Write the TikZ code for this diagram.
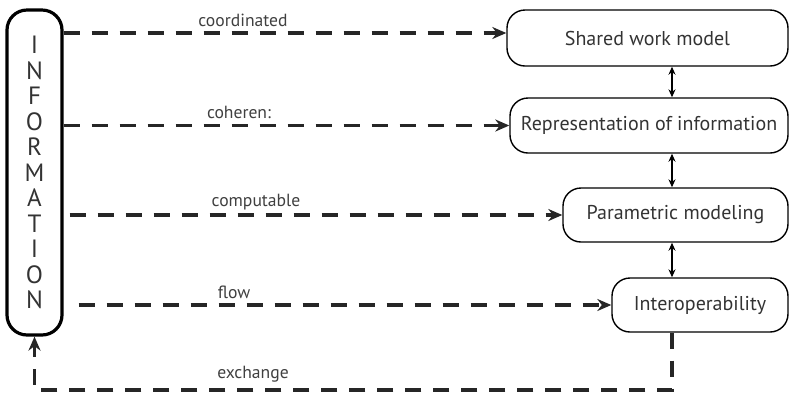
\documentclass[tikz,border=0pt]{standalone}
\usepackage{fontspec}
\setmainfont{PT Sans}
\usetikzlibrary{arrows.meta,calc}

\tikzset{
  infobox/.style={draw, line width=1.6pt, rounded corners=10pt, minimum width=27.5pt,
    minimum height=162.5pt, inner sep=0pt, align=center,
    font=\fontsize{12.5}{12.75}\selectfont, text=black!80},
  stagebox/.style={draw, line width=0.7pt, rounded corners=9pt, inner sep=0pt,
    font=\fontsize{10}{12}\selectfont, text=black!80},
  flowline/.style={line width=1.6pt, dash pattern=on 8pt off 6pt, black!85,
    -{Stealth[length=7pt,width=6pt]}},
  linkarrow/.style={line width=0.6pt, {Stealth[length=4pt,width=3.5pt]}-{Stealth[length=4pt,width=3.5pt]}},
  tag/.style={font=\fontsize{8.8}{10}\selectfont, text=black!75, inner sep=0pt}
}

\begin{document}
\begin{tikzpicture}[x=0.5pt,y=-0.5pt]
\useasboundingbox (0,0) rectangle (789,393);

% source column
\node[infobox] (info) at (34.5,172.5) {I\\N\\F\\O\\R\\M\\A\\T\\I\\O\\N};

% stages on the right
\node[stagebox, minimum width=140.5pt, minimum height=28pt] (b1) at (647.5,38) {Shared work model};
\node[stagebox, minimum width=139pt, minimum height=27.5pt] (b2) at (649,125.5) {Representation of information};
\node[stagebox, minimum width=112.5pt, minimum height=27pt] (b3) at (675.5,215) {Parametric modeling};
\node[stagebox, minimum width=88pt, minimum height=27pt] (b4) at (700,305) {Interoperability};

% links between stages
\coordinate (vx) at (672,0);
\draw[linkarrow] (b1.south -| vx) -- (b2.north -| vx);
\draw[linkarrow] (b2.south -| vx) -- (b3.north -| vx);
\draw[linkarrow] (b3.south -| vx) -- (b4.north -| vx);

% flows from the source
\draw[flowline] ($(info.east |- b1.west)+(0,-5)$) -- ($(b1.west)+(0,-5)$);
\draw[flowline] (info.east |- b2.west) -- (b2.west);
\draw[flowline] ([xshift=3pt]info.east |- b3.west) -- (b3.west);
\draw[flowline] ([xshift=7.5pt]info.east |- b4.west) -- (b4.west);

% feedback loop
\coordinate (lowright) at (672,390);
\draw[flowline] (b4.south -| vx) -- (lowright) -- (lowright -| info.south) -- (info.south);

% labels
\node[tag] (tcoord) at (243,20) {coordinated};
\node[tag] (tcoher) at (239,112) {coheren:};
\node[tag] (tcomp) at (256,202) {computable};
\node[tag] (tflow) at (234,292) {flow};
\node[tag] (texch) at (253,374) {exchange};
\end{tikzpicture}
\end{document}
